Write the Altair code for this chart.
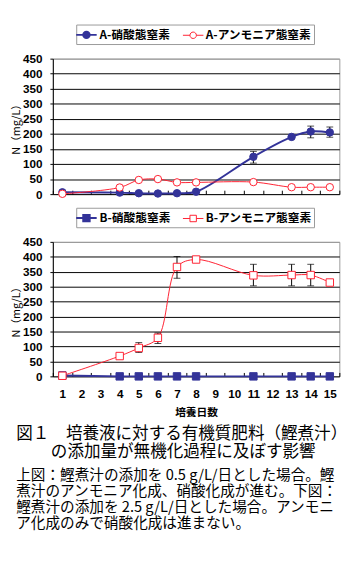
import altair as alt
import pandas as pd

days = [1, 4, 5, 6, 7, 8, 11, 13, 14, 15]
all_days = list(range(1, 16))

a_nitrate = [6, 5, 3, 2, 3, 8, 124, 190, 208, 205]
a_ammonia = [1, 22, 47, 50, 39, 39, 40, 23, 23, 23]
a_err_days = [11, 13, 14, 15]
a_err_lo = [103, 186, 187, 189]
a_err_hi = [142, 194, 226, 223]

b_nitrate = [3, 0, 0, 0, 0, 0, 0, 0, 0, 0]
b_ammonia = [2, 68, 95, 129, 366, 391, 338, 339, 339, 314]
b_err_days = [5, 6, 7, 11, 13, 14]
b_err_lo = [80, 110, 328, 303, 303, 303]
b_err_hi = [113, 145, 401, 375, 375, 375]

y_ticks = list(range(0, 451, 50))

BLUE = "#333399"
RED = "#FF2030"
CJK = "Noto Sans CJK JP"
LAT = "Liberation Sans"

CIRCLE_PATH = ("M-1.4,0H-0.44M0.44,0H1.4M-0.44,0A0.44,0.44,0,1,0,0.44,0"
               "A0.44,0.44,0,1,0,-0.44,0Z")
SQUARE_PATH = ("M-1.4,0H-0.44M0.44,0H1.4M-0.44,-0.44H0.44V0.44H-0.44Z")


def panel(prefix, nit, amm, err_days, err_lo, err_hi, shape, sym_path, bottom):
    n_name = f"{prefix}-硝酸態窒素"
    a_name = f"{prefix}-アンモニア態窒素"
    df = pd.DataFrame({
        "day": days * 2,
        "value": nit + amm,
        "series": [n_name] * len(days) + [a_name] * len(days),
    })
    edf = pd.DataFrame({"day": err_days, "lo": err_lo, "hi": err_hi})
    dom = [n_name, a_name]
    legend = alt.Legend(
        title=None, orient="none", legendX=24, legendY=-35,
        direction="horizontal", strokeColor="#999999", fillColor="white",
        padding=2, labelFont=CJK, labelFontSize=12, labelFontWeight="bold",
        labelColor="black", symbolType=sym_path, symbolSize=225,
        symbolStrokeWidth=1.5, columnPadding=10, labelOffset=5,
    )
    if bottom:
        xaxis = alt.Axis(labels=True, labelAngle=0, labelPadding=13,
                         labelFont=LAT, labelFontSize=12,
                         labelFontWeight="bold", labelColor="black",
                         title="培養日数", titleFont=CJK, titleFontSize=11,
                         titleFontWeight="bold", titlePadding=7,
                         titleColor="black",
                         tickBand="extent", domain=False, offset=-4,
                         tickSize=4, tickColor="black", grid=False)
    else:
        xaxis = alt.Axis(labels=False, title=None, tickBand="extent",
                         domain=False, offset=-4, tickSize=4,
                         tickColor="black", grid=False)
    xscale = alt.Scale(domain=all_days, paddingInner=0, paddingOuter=0)
    yscale = alt.Scale(domain=[0, 450], nice=False)
    yaxis = alt.Axis(values=y_ticks, grid=True, labelOverlap=False,
                     gridColor=alt.expr("datum.value >= 450 ? '#999999' : 'black'"),
                     domainColor="black", tickColor="black", tickSize=3,
                     labelPadding=8, labelFont=LAT,
                     labelFontSize=12, labelFontWeight="bold",
                     labelColor="black",
                     title="N（mg/L）", titleFont=CJK, titleFontSize=11,
                     titleFontWeight="normal", titlePadding=1,
                     titleColor="black")
    x = alt.X("day:O", scale=xscale, axis=xaxis)
    color = alt.Color("series:N", scale=alt.Scale(domain=dom, range=[BLUE, RED]),
                      legend=legend)
    fill = alt.Fill("series:N", scale=alt.Scale(domain=dom, range=[BLUE, "white"]),
                    legend=legend)
    sw = alt.StrokeWidth("series:N", scale=alt.Scale(domain=dom, range=[2, 1]),
                         legend=None)
    lines = alt.Chart(df).mark_line(interpolate="catmull-rom").encode(
        x=x, y=alt.Y("value:Q", scale=yscale, axis=yaxis),
        color=color, strokeWidth=sw)
    rules = alt.Chart(edf).mark_rule(color="black", strokeWidth=1).encode(
        x=x, y=alt.Y("lo:Q", scale=yscale, axis=yaxis), y2="hi:Q")
    cap_lo = alt.Chart(edf).mark_tick(color="black", size=7, thickness=1).encode(
        x=x, y=alt.Y("lo:Q", scale=yscale, axis=yaxis))
    cap_hi = alt.Chart(edf).mark_tick(color="black", size=7, thickness=1).encode(
        x=x, y=alt.Y("hi:Q", scale=yscale, axis=yaxis))
    pts = alt.Chart(df).mark_point(shape=shape, size=58, strokeWidth=1,
                                   opacity=1, fillOpacity=1).encode(
        x=x, y=alt.Y("value:Q", scale=yscale, axis=yaxis),
        color=color, fill=fill)
    return alt.layer(lines, rules, cap_lo, cap_hi, pts).properties(
        width=294, height=139 if not bottom else 138)


top = panel("A", a_nitrate, a_ammonia, a_err_days, a_err_lo, a_err_hi,
            "circle", CIRCLE_PATH, False)
bot = panel("B", b_nitrate, b_ammonia, b_err_days, b_err_lo, b_err_hi,
            "square", SQUARE_PATH, True)

title_lines = ["図１　培養液に対する有機質肥料（鰹煮汁）",
               "\u3164\u3164\u2005の添加量が無機化過程に及ぼす影響"]
body_lines = ["上図：鰹煮汁の添加を 0.5 g/L/日とした場合。鰹",
              "煮汁のアンモニア化成、硝酸化成が進む。下図：",
              "鰹煮汁の添加を 2.5 g/L/日とした場合。アンモニ",
              "ア化成のみで硝酸化成は進まない。"]

chart = alt.vconcat(top, bot, spacing=6).resolve_scale(
    color="independent", fill="independent", strokeWidth="independent"
).properties(
    padding={"left": 2, "top": 9, "right": 5, "bottom": 5},
    title=alt.TitleParams(
        text=title_lines, subtitle=body_lines, orient="bottom", anchor="start",
        font=CJK, fontSize=17, fontWeight="normal", lineHeight=18,
        color="black", subtitleFont=CJK, subtitleFontSize=15,
        subtitleLineHeight=16.5, subtitleColor="black", subtitlePadding=8,
        offset=9, dx=6),
).configure_view(stroke="#999999", strokeWidth=1)

chart.save("out.html", embed_options={"renderer": "svg", "actions": False})
